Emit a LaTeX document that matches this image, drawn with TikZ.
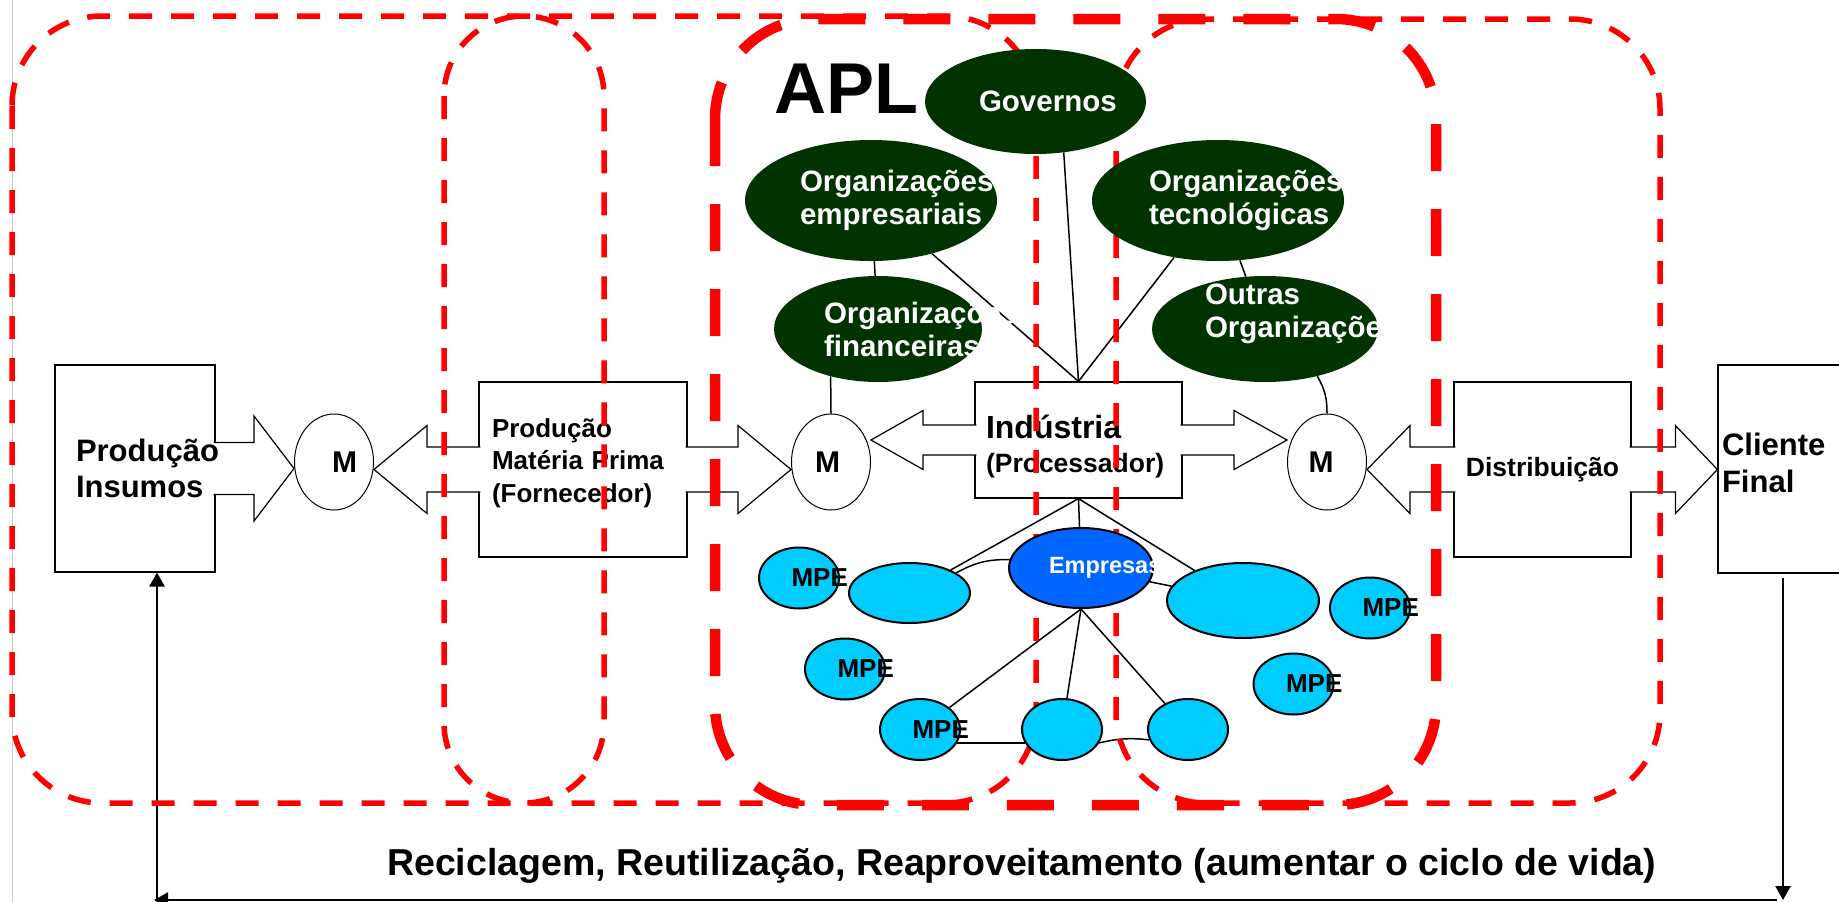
\documentclass[tikz,border=0pt]{standalone}
\usepackage{fontspec}
\setmainfont{Liberation Sans}
\usepackage{tikz}
\usetikzlibrary{shapes,arrows.meta,calc,positioning,backgrounds}
\definecolor{aplred}{RGB}{255,0,0}
\definecolor{orggreen}{RGB}{0,51,0}
\definecolor{empblue}{RGB}{0,102,255}
\definecolor{mpeblue}{RGB}{0,204,255}
\newcommand{\fsz}[2]{\fontsize{#1}{#2}\selectfont}
\tikzset{box/.style={draw, rectangle, line width=1.2pt, inner sep=0pt, align=left}}
\tikzset{mkt/.style={draw, ellipse, line width=1pt, minimum width=79pt, minimum height=96pt, inner sep=0pt, align=left, font=\fsz{30}{36}\bfseries}}
\tikzset{barrow/.style={draw, fill=white, line width=1.2pt}}
\tikzset{region/.style={draw=aplred, line width=5.5pt, dash pattern=on 23pt off 19pt, rounded corners=90pt}}
\tikzset{apl/.style={draw=aplred, line width=10.5pt, dash pattern=on 47pt off 38pt, rounded corners=100pt}}
\tikzset{org/.style={ellipse, fill=orggreen, text=white, align=left, inner sep=0pt, font=\fsz{29.5}{33}\bfseries}}
\tikzset{mpe/.style={ellipse, draw, line width=2pt, fill=mpeblue, minimum width=80pt, minimum height=61pt, inner sep=0pt, text width=15pt, align=left, font=\fsz{26}{30}\bfseries}}
\tikzset{link/.style={draw, line width=1.5pt}}
\tikzset{back/.style={draw, line width=2.6pt, -{Triangle[length=14pt, width=15pt]}}}
\newcommand{\rightblock}[5]{\path[barrow] ($(#1)+(-2,-#3)$) -- ($(#2)+(-#5,-#3)$) -- ($(#2)+(-#5,-#4)$) -- (#2) -- ($(#2)+(-#5,#4)$) -- ($(#2)+(-#5,#3)$) -- ($(#1)+(-2,#3)$);}
\newcommand{\leftblock}[5]{\path[barrow] ($(#1)+(2,-#3)$) -- ($(#2)+(#5,-#3)$) -- ($(#2)+(#5,-#4)$) -- (#2) -- ($(#2)+(#5,#4)$) -- ($(#2)+(#5,#3)$) -- ($(#1)+(2,#3)$);}
\begin{document}
\begin{tikzpicture}[x=1pt, y=-1pt]
        \useasboundingbox (0,0) rectangle (1839,902);
        \clip (0,0) rectangle (1839,902);
        \draw [black!22, line width=1pt] (12,0) -- (12,902);
        %
        \node [box, minimum width=160pt, minimum height=207pt] (ins) at (135,468.5) {};
        \node [box, minimum width=208pt, minimum height=175pt, text width=182pt, text height=24pt, text depth=89pt, font=\fsz{26}{32.5}\bfseries] (mat) at (583,469.5) {Produção\\Matéria Prima\\(Fornecedor)};
        \node [box, minimum width=207pt, minimum height=116pt, text width=185pt, text height=30pt, text depth=34pt, font=\fsz{26.5}{34}\bfseries] (ind) at (1078.5,440) {{\fsz{32}{34}Indústria}\\(Processador)};
        \node [box, minimum width=177pt, minimum height=175pt, font=\fsz{26.5}{32}\bfseries] (dist) at (1542.5,469.5) {Distribuição};
        \node [box, minimum width=130pt, minimum height=208pt, text width=122pt, text height=23pt, text depth=51pt, font=\fsz{31}{37}\bfseries] (cli) at (1783,469) {Cliente\\Final};
        %
        \node [mkt, text width=4pt]  (m1) at (334,462)  {M};
        \node [mkt, text width=32pt] (m2) at (831,462)  {M};
        \node [mkt, text width=37pt] (m3) at (1327,462) {M};
        %
        \rightblock{ins.east}{m1.west|-ins.east}{26}{52.5}{40}
        \leftblock{mat.west}{m1.east|-mat.west}{22.5}{44}{53}
        \rightblock{mat.east}{m2.west|-mat.east}{22.5}{44}{53}
        \leftblock{ind.west}{m2.east|-ind.west}{15}{29.5}{52}
        \rightblock{ind.east}{m3.west|-ind.east}{15}{29.5}{53}
        \leftblock{dist.west}{m3.east|-dist.west}{22.5}{44}{43}
        \rightblock{dist.east}{cli.west|-dist.east}{22.5}{44}{42}
        \node [inner sep=0pt, text width=118pt, align=left, font=\fsz{31}{36}\bfseries] (instxt) at (ins.center) {Produção\\Insumos};
        %
        \node [anchor=base west, inner sep=0pt, font=\fsz{37.5}{40}\bfseries] (recy) at (387,875) {Reciclagem, Reutilização, Reaproveitamento (aumentar o ciclo de vida)};
        \node [anchor=base west, inner sep=0pt, font=\fsz{72}{72}\bfseries] (apltxt) at (774,113) {APL};
        \coordinate (cr) at (1784,900);
        \coordinate (cl) at (157,900);
        \draw [back] ([yshift=-4pt]cli.south) -- (cli.south |- cr);
        \draw [back] ([xshift=-7pt]cr) -- ([xshift=-3pt]cl);
        \draw [back] (cl) -- (cl |- ins.south);
        %
        \path [region] (12,16) rectangle (1036,803);
        \path [region, rounded corners=80pt] (444,16) rectangle (604,803);
        \path [region] (1116,19) rectangle (1660,803);
        \path [apl] (715,19) rectangle (1436,805);
        %
        \node [org, minimum width=221pt, minimum height=105pt, text width=113pt] (gov)  at (1035.5,101.5) {Governos};
        \node [org, minimum width=252pt, minimum height=121pt, text width=142pt] (oemp) at (871,200.5)    {Organizações\\empresariais};
        \node [org, minimum width=208pt, minimum height=106pt, text width=108pt] (ofin) at (878,329)      {Organizações\\financeiras};
        \node [org, minimum width=252pt, minimum height=121pt, text width=138pt] (otec) at (1218,200.5)   {Organizações\\tecnológicas};
        \node [org, minimum width=226pt, minimum height=106pt, text width=120pt, text height=10pt, text depth=60pt] (oout) at (1265,329) {Outras\\Organizações};
        %
        \node [mpe] (mpea) at (799,578)    {MPE};
        \node [mpe, minimum width=121pt, minimum height=60pt] (elb) at (909.5,593) {};
        \node [mpe] (mpec) at (845,669)    {MPE};
        \node [mpe] (mped) at (920,729.5)  {MPE};
        \node [mpe] (ebm)  at (1062,729.5) {};
        \node [mpe] (ebr)  at (1188,729.5) {};
        \node [mpe, minimum width=152pt, minimum height=75pt] (erb) at (1243,600.5) {};
        \node [mpe] (mpeh) at (1370,608)   {MPE};
        \node [mpe] (mpei) at (1293.5,684) {MPE};
        \node [mpe, fill=empblue, text=white, minimum width=144pt, minimum height=80pt, text width=64pt, font=\fsz{23.5}{26}\bfseries] (emp) at (1081,568) {Empresas};
        %
        \begin{pgfonlayer}{background}
        \path [link] (oemp) -- (ofin);
        \path [link] (oemp) -- (ind.north);
        \path [link] (gov.-61) -- (ind.north);
        \path [link] (otec) -- (ind.north);
        \path [link] (otec) -- (oout);
        \path [link] (ofin.225) -- (m2.north);
        \path [link] (oout.-42) to [bend left=15] (m3.north);
        \path [link] (ind.south) -- (elb);
        \path [link] (ind.south) -- (emp);
        \path [link] (ind.south) -- (erb);
        \path [link] (elb) to [bend left=15] (emp);
        \path [link] (emp) -- (erb);
        \path [link] (emp.south) -- (mped);
        \path [link] (emp.south) -- (ebm);
        \path [link] (emp.south) -- (ebr);
        \path [link] (mped.-20) -- (ebm.200);
        \path [link] (ebm.-20) to [bend left=10] (ebr.195);
        \end{pgfonlayer}
\end{tikzpicture}
\end{document}
